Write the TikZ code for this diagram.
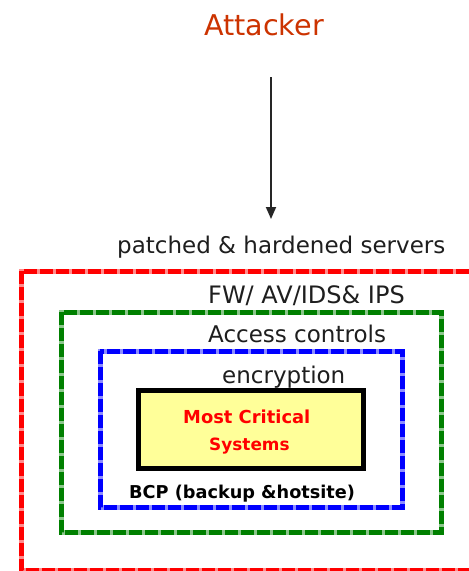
\documentclass[tikz,border=0pt]{standalone}
\usepackage{fontspec}
\setmainfont{DejaVu Sans}
\usetikzlibrary{arrows.meta}
\definecolor{attackred}{RGB}{204,51,0}
\definecolor{zonered}{RGB}{255,0,0}
\definecolor{zonegreen}{RGB}{0,128,0}
\definecolor{zoneblue}{RGB}{0,0,255}
\definecolor{coreyellow}{RGB}{255,255,153}
\definecolor{labelgray}{RGB}{30,30,30}
\newcommand{\fsz}[1]{\fontsize{#1}{#1}\selectfont}
\begin{document}
\begin{tikzpicture}[x=1pt,y=-1pt,
  zone/.style={line width=5pt, draw=#1, dash pattern=on 13pt off 3pt,
    preaction={draw=#1!45, solid, line width=5pt}},
  lbl/.style={inner sep=0pt, anchor=base west, text=labelgray},
  core/.style={draw=black, line width=5pt, fill=coreyellow, inner sep=0pt},
  hit/.style={-{Triangle[length=12pt,width=10pt]}, line width=1.8pt, draw=black!85}]
\useasboundingbox (0,0) rectangle (469,571);
\fill[white] (0,0) rectangle (469,571);

% attacker and the path of the attack
\node[lbl, text=attackred] (attacker) at (204,35) {\fsz{28.6pt}Attacker};
\coordinate (attackfrom) at (271,77);
\coordinate (attackto) at (271,219);
\draw[hit] (attackfrom) -- (attackto);

% layered defences, outermost first
\begin{scope}
  \clip (0,0) rectangle (469,571);
  \draw[zone=zonered] (21,271) rectangle (490,570);
\end{scope}
\node[lbl] (servers) at (117,253) {\fsz{23pt}patched \& hardened servers};

\draw[zone=zonegreen] (61,312) rectangle (441,532);
\node[lbl] (fw) at (208,303) {\fsz{24pt}FW/ AV/IDS\& IPS};

\draw[zone=zoneblue] (100,351) rectangle (402,507);
\node[lbl] (access) at (208,342) {\fsz{23pt}Access controls};
\node[lbl] (crypto) at (222,383) {\fsz{23pt}encryption};

% innermost core
\node[core, minimum width=225pt, minimum height=78pt] (coresys) at (250.5,429) {};
\node[lbl, text=zonered] (mostcrit) at (183,423) {\fsz{17.9pt}\bfseries Most Critical};
\node[lbl, text=zonered] (systems) at (209,450) {\fsz{16.9pt}\bfseries Systems};
\node[lbl, text=black] (bcp) at (129,498) {\fsz{17.7pt}\bfseries BCP (backup \&hotsite)};
\end{tikzpicture}
\end{document}
